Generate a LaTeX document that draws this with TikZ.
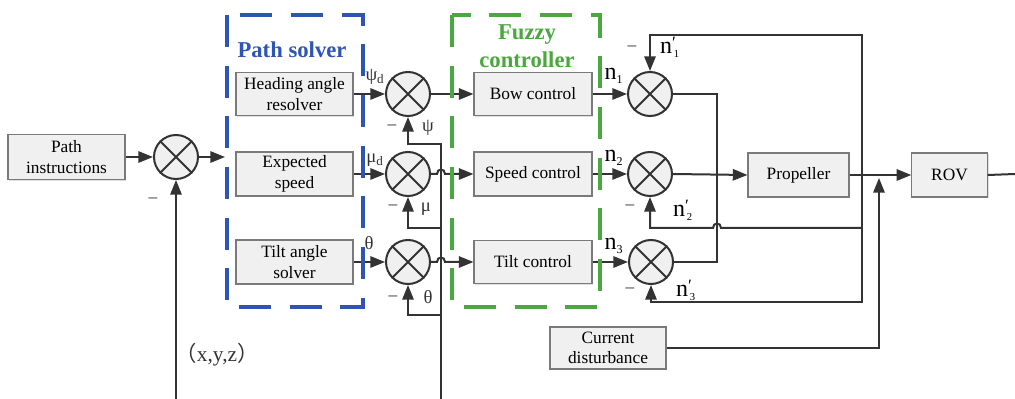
\documentclass[tikz,border=0pt]{standalone}
\usepackage{fontspec}
\setmainfont{Liberation Serif}
\newfontfamily\cjk{Noto Sans CJK SC}
\usetikzlibrary{arrows.meta,shadows}
\definecolor{lineg}{HTML}{333333}
\definecolor{boxd}{HTML}{7A7A7A}
\definecolor{boxf}{HTML}{F0F0F0}
\definecolor{pblue}{HTML}{2E55B4}
\definecolor{fgreen}{HTML}{4BA83E}
\newcommand\npr[1]{n\makebox[0pt][l]{\raisebox{0.5ex}{\fontsize{13}{13}\selectfont\char"2032}}\textsubscript{\fontsize{8}{8}\selectfont\,#1}}
\newcommand\nsub[1]{n\textsubscript{\fontsize{9}{9}\selectfont #1}}
\begin{document}
\begin{tikzpicture}[x=0.75pt,y=-0.75pt,
  blk/.style={draw=boxd, line width=0.8pt, fill=boxf,
    drop shadow={shadow xshift=1pt,shadow yshift=-1pt,opacity=0.25},
    align=center, font=\fontsize{13}{15.5}\selectfont, inner sep=0pt},
  sumj/.style={circle, draw=lineg, line width=1.5pt, fill=boxf, minimum size=33pt, inner sep=0pt},
  wire/.style={draw=lineg, line width=1.5pt},
  arr/.style={wire, -{Triangle[length=11pt,width=8.5pt]}},
  sgn/.style={font=\fontsize{13}{13}\selectfont, text=lineg},
  glab/.style={font=\fontsize{14}{14}\selectfont, text=lineg},
  nlab/.style={font=\fontsize{18}{18}\selectfont, text=black},
  dbox/.style={line width=3pt, dash pattern=on 24pt off 14pt},
]
\useasboundingbox (0,0) rectangle (1015,399);

% blocks
\node[blk, minimum width=87.75pt, minimum height=33.75pt] (pi) at (66.5,157) {Path\\instructions};
\node[blk, minimum width=87.75pt, minimum height=32.5pt] (har) at (294.5,94) {Heading angle\\resolver};
\node[blk, minimum width=87.75pt, minimum height=33pt] (es) at (294.5,174) {Expected\\speed};
\node[blk, minimum width=87.75pt, minimum height=33pt] (tas) at (294.5,262) {Tilt angle\\solver};
\node[blk, minimum width=88.5pt, minimum height=32pt] (bc) at (533,94) {Bow control};
\node[blk, minimum width=88.5pt, minimum height=33pt] (sc) at (533,174) {Speed control};
\node[blk, minimum width=88.5pt, minimum height=32.5pt] (tc) at (533,262) {Tilt control};
\node[blk, minimum width=75.75pt, minimum height=33pt] (pr) at (798.5,175) {Propeller};
\node[blk, minimum width=56.5pt, minimum height=33pt] (rov) at (949.5,175) {ROV};
\node[blk, minimum width=87pt, minimum height=31.5pt] (cd) at (608,348) {Current\\disturbance};

% summing junctions
\node[sumj] (s0) at (176,157) {};
\node[sumj] (s1) at (408,94) {};
\node[sumj] (s2) at (408,174) {};
\node[sumj] (s3) at (408,262) {};
\node[sumj] (s4) at (650,94) {};
\node[sumj] (s5) at (650,174) {};
\node[sumj] (s6) at (651,262) {};
\foreach \s in {s0,s1,s2,s3,s4,s5,s6}{
  \draw[wire] (\s.45) -- (\s.225) (\s.135) -- (\s.315);
}

% coordinates
\coordinate (sin) at (225,157);
\coordinate (fb0) at (176,399);
\coordinate (fb1) at (441,399);
\coordinate (j1) at (441,144);
\coordinate (j2) at (441,228);
\coordinate (j3) at (441,315);
\coordinate (mj) at (717,174);
\coordinate (fr) at (862,174);
\coordinate (ftop) at (862,35);
\coordinate (fbot) at (862,302);
\coordinate (fmid) at (862,228);
\coordinate (cdj) at (879,178);
\coordinate (oute) at (1015,174);

% left part
\draw[arr] (pi.east) -- (s0.west);
\draw[arr] (s0.east) -- (sin);
\draw[arr] (fb0) -- (s0.south);

\draw[arr] (har.east) -- (s1.west);
\draw[arr] (es.east) -- (s2.west);
\draw[arr] (tas.east) -- (s3.west);

\draw[arr] (fb1) -- (j1) -| (s1.south);
\draw[arr] (j2) -| (s2.south);
\draw[arr] (j3) -| (s3.south);

\draw[arr] (s1.east) -- (bc.west);
\draw[arr] (s2.east) -- (437,174) .. controls (437,168) and (445,168) .. (445,174) -- (sc.west);
\draw[arr] (s3.east) -- (437,262) .. controls (437,256) and (445,256) .. (445,262) -- (tc.west);

% right part
\draw[arr] (bc.east) -- (s4.west);
\draw[arr] (sc.east) -- (s5.west);
\draw[arr] (tc.east) -- (s6.west);

\draw[wire] (s4.east) -| (mj);
\draw[wire] (s6.east) -| (mj);
\draw[arr] (s5.east) -- (pr.west);
\draw[arr] (pr.east) -- (rov.west);
\draw[wire] (rov.east) -- (oute);

\draw[arr] (fr) -- (ftop) -| (s4.north);
\draw[arr] (fr) -- (fbot) -| (s6.south);
\draw[arr] (fmid) -- (721,228) .. controls (721,222) and (713,222) .. (713,228) -| (s5.south);
\draw[arr] (cd.east) -| (cdj);

% dashed groups
\draw[dbox, pblue] (227,15) rectangle (363,307);
\draw[dbox, fgreen] (452,15) rectangle (600,307);
\node[font=\bfseries\fontsize{17}{17}\selectfont, text=pblue] (pst) at (292,50) {Path solver};
\node[font=\bfseries\fontsize{17}{21}\selectfont, text=fgreen, align=center] (fct) at (527,46) {Fuzzy\\controller};

% labels
\node[sgn] (m0) at (153,200) {–};
\node[font=\fontsize{16}{16}\selectfont, text=lineg] (xyz) at (217,355) {{\cjk （}x,y,z{\cjk ）}};
\node[glab] (lpsid) at (375,77) {ψ\textsubscript{d}};
\node[glab] (lmud) at (375,160) {μ\textsubscript{d}};
\node[glab] (lthd) at (369,243) {θ};
\node[sgn] (m1) at (392,127) {–};
\node[glab] (lpsi) at (428,128) {ψ};
\node[sgn] (m2) at (393,207) {–};
\node[glab] (lmu) at (426,209) {μ};
\node[sgn] (m3) at (393,298) {–};
\node[glab] (lth) at (428,297) {θ};

\node[nlab] (n1) at (614,76) {\nsub{1}};
\node[nlab] (n2) at (614,158) {\nsub{2}};
\node[nlab] (n3) at (614,246) {\nsub{3}};
\node[sgn] (m4) at (632,48) {–};
\node[nlab] (n1p) at (670,47) {\npr{1}};
\node[sgn] (m5) at (630,207) {–};
\node[nlab] (n2p) at (683,210) {\npr{2}};
\node[sgn] (m6) at (630,290) {–};
\node[nlab] (n3p) at (686,290) {\npr{3}};
\end{tikzpicture}
\end{document}
